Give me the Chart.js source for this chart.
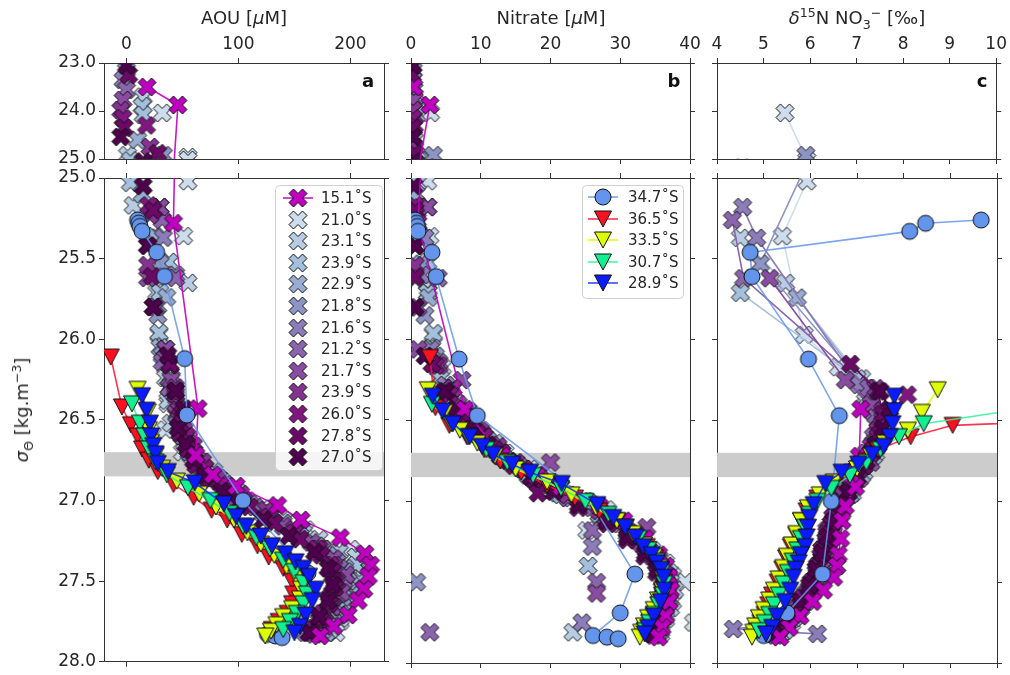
<!DOCTYPE html>
<html><head><meta charset="utf-8">
<script src="https://cdn.jsdelivr.net/npm/chart.js@4.4.1/dist/chart.umd.min.js"></script>
<style>
html,body{margin:0;padding:0;background:#fff;}
#wrap{position:relative;width:1010px;height:675px;overflow:hidden;font-family:"DejaVu Sans",sans-serif;color:#262626;}
canvas{position:absolute;left:0;top:0;}
.t{position:absolute;top:8px;font-size:18px;line-height:20px;white-space:nowrap;transform:translateX(-50%);}
.t sub,.t sup,.yl sub,.yl sup{font-size:70%;line-height:0;}
.yl{position:absolute;left:22px;top:410px;font-size:18px;line-height:20px;white-space:nowrap;transform:translate(-50%,-50%) rotate(-90deg);}
</style></head><body>
<div id="wrap">
<canvas id="aT" width="1010" height="675"></canvas>
<canvas id="bT" width="1010" height="675"></canvas>
<canvas id="cT" width="1010" height="675"></canvas>
<canvas id="aB" width="1010" height="675"></canvas>
<canvas id="bB" width="1010" height="675"></canvas>
<canvas id="cB" width="1010" height="675"></canvas>
<div class="t" style="left:244px">AOU [<i>μ</i>M]</div>
<div class="t" style="left:551px">Nitrate [<i>μ</i>M]</div>
<div class="t" style="left:857px"><i>δ</i><sup>15</sup>N NO<sub>3</sub><sup>−</sup> [‰]</div>
<div class="yl"><i>σ</i><sub>Θ</sub> [kg.m<sup>−3</sup>]</div>
</div>
<script>
// ---------- tick values ----------
const aouTicks = [0, 100, 200];
const no3Ticks = [0, 10, 20, 30, 40];
const d15nTicks = [4, 5, 6, 7, 8, 9, 10];
const sigTopTicks = [23, 24, 25];
const sigBotTicks = [25, 25.5, 26, 26.5, 27, 27.5, 28];
const bandSig = [26.7, 26.85];

// ---------- 15.1°S ----------
const sig_151 = [23.50, 23.875, 25.28, 26.43, 26.72, 26.84, 26.91, 27.03, 27.12, 27.23, 27.33, 27.40, 27.47, 27.55, 27.62, 27.71, 27.78, 27.84];
const aou_151 = [18.5, 46, 42, 64, 62, 77, 98, 135, 156, 191, 213, 218, 216, 212, 207, 198, 185, 173];
const no3_151 = [0.4, 2.7, 1.0, 7.7, 13.0, 18.0, 21.5, 27.0, 30.5, 33.5, 35.5, 36.5, 37.0, 37.2, 37.0, 36.5, 36.0, 35.5];
const d15n_151 = [null, null, null, 7.08, 7.05, 6.90, 6.97, 6.75, 6.68, 6.65, 6.60, 6.57, 6.50, 6.28, 6.05, 5.78, 5.55, 5.35];
// ---------- 21.0°S ----------
const sig_210 = [24.04, 24.96, 25.02, 25.36, 25.97, 26.17, 26.40, 26.56, 26.70, 26.80, 26.93, 27.05, 27.18, 27.30, 27.38, 27.46, 27.50, 27.62, 27.75, 27.82];
const aou_210 = [32, 55, 55, 51, 29, 35, 37, 35, 50, 70, 96, 130, 160, 200, 212, 208, 205, 198, 191, 187];
const no3_210 = [2.8, 1.0, 2.4, 2.7, 3.2, 4.5, 6.3, 8.5, 13.5, 17.0, 20.2, 28.0, 25.2, 34.5, 36.5, 37.5, 39.3, 37.5, 40.5, 35.8];
const d15n_210 = [5.46, null, 5.93, 5.40, 5.87, 6.60, 7.20, 7.50, 7.30, 7.00, 6.80, 6.60, 6.50, 6.40, 6.30, 6.20, 6.10, 5.90, 5.60, 5.30];
// ---------- 23.1°S ----------
const sig_231 = [23.70, 24.92, 25.17, 25.37, 25.65, 25.71, 26.24, 26.38, 26.52, 26.64, 26.76, 26.88, 27.00, 27.12, 27.24, 27.35, 27.44, 27.55, 27.66, 27.73, 27.81];
const aou_231 = [15, 1, 6, 20, 55, 27, 35, 37, 40, 52, 66, 85, 108, 140, 172, 205, 210, 204, 196, 191, 180];
const no3_231 = [0.5, 0.8, 1.0, 1.5, 2.4, 2.4, 4.0, 6.3, 8.8, 12.0, 15.0, 20.0, 25.0, 29.5, 32.5, 35.5, 37.0, 37.8, 37.2, 36.5, 23.2];
const d15n_231 = [null, null, null, 4.50, 5.47, null, 7.10, 7.18, 7.45, 7.35, 7.10, 6.85, 6.65, 6.50, 6.40, 6.30, 6.20, 6.05, 5.80, 5.60, 5.40];
// ---------- 23.9°S (a) ----------
const sig_239a = [23.90, 24.08, 25.03, 25.52, 25.71, 25.96, 26.24, 26.42, 26.58, 26.70, 26.82, 26.95, 27.08, 27.20, 27.32, 27.40, 27.50, 27.60, 27.70, 27.80];
const aou_239a = [14, 15, 3.6, 38, 30, 29, 40, 45, 48, 60, 78, 100, 128, 158, 190, 205, 208, 200, 192, 182];
const no3_239a = [0.6, 0.8, 0.9, 2.4, 2.4, 3.2, 4.2, 6.8, 9.5, 12.8, 16.5, 21.0, 27.0, 31.0, 34.0, 25.4, 37.2, 37.0, 36.5, 35.8];
const d15n_239a = [null, null, null, null, 4.50, null, 7.00, 7.30, 7.50, 7.40, 7.15, 6.90, 6.65, 6.50, 6.40, 6.30, 6.15, 6.00, 5.75, 5.45];
// ---------- 22.9°S ----------
const sig_229 = [24.60, 25.10, 25.36, 25.74, 26.05, 26.30, 26.46, 26.60, 26.72, 26.84, 26.96, 27.08, 27.20, 27.30, 27.42, 27.52, 27.62, 27.72, 27.82];
const aou_229 = [10, 14, 25, 36, 30, 38, 45, 50, 58, 72, 95, 122, 150, 175, 195, 200, 195, 186, 178];
const no3_229 = [0.5, 0.7, 1.2, 2.5, 3.0, 5.0, 7.5, 10.0, 12.8, 16.8, 21.5, 27.0, 31.2, 34.0, 35.8, 36.8, 36.7, 36.0, 35.2];
const d15n_229 = [null, null, null, 5.72, null, 7.20, 7.40, 7.50, 7.35, 7.10, 6.85, 6.60, 6.45, 6.35, 6.25, 6.10, 5.90, 5.65, 5.35];
// ---------- 21.8°S ----------
const sig_218 = [23.15, 24.92, 25.53, 25.85, 26.10, 26.33, 26.50, 26.62, 26.74, 26.86, 26.98, 27.10, 27.22, 27.34, 27.44, 27.50, 27.60, 27.70, 27.80];
const aou_218 = [0, 33, 30, 28, 32, 42, 48, 55, 62, 78, 100, 128, 155, 180, 195, 198, 193, 185, 176];
const no3_218 = [0.3, 3.2, 1.5, 2.0, 3.5, 5.5, 8.5, 11.0, 13.5, 18.0, 23.0, 28.0, 32.0, 34.5, 36.0, 0.8, 36.8, 36.2, 35.5];
const d15n_218 = [null, 5.91, 4.93, null, null, 7.30, 7.45, 7.40, 7.25, 7.00, 6.75, 6.55, 6.40, 6.30, 6.20, 6.10, 5.90, 5.65, 5.30];
// ---------- 21.6°S ----------
const sig_216 = [23.35, 25.18, 25.37, 25.60, 26.06, 26.28, 26.45, 26.58, 26.68, 26.78, 26.90, 27.02, 27.14, 27.28, 27.38, 27.48, 27.58, 27.68, 27.75, 27.79, 27.82];
const aou_216 = [-3, 30, 33, 44, 35, 40, 46, 50, 55, 65, 88, 110, 140, 170, 188, 194, 190, 182, 172, 168, 160];
const no3_216 = [0.3, 2.4, 2.0, 1.5, 2.8, 5.0, 7.8, 10.2, 12.5, 15.5, 20.5, 25.5, 30.0, 26.0, 35.2, 36.4, 36.6, 36.0, 24.5, 35.0, 34.8];
const d15n_216 = [null, 4.55, 4.85, null, null, 7.05, 7.35, 7.45, 7.35, 7.15, 6.85, 6.60, 6.45, 6.32, 6.22, 6.10, 5.92, 5.70, 5.50, 4.35, 6.15];
// ---------- 21.2°S ----------
const sig_212 = [23.56, 25.26, 25.62, 25.80, 26.14, 26.30, 26.47, 26.60, 26.70, 26.80, 26.92, 27.04, 27.18, 27.30, 27.42, 27.50, 27.57, 27.66, 27.74, 27.81];
const aou_212 = [0, 32, 44, 26, 32, 38, 45, 50, 56, 68, 90, 115, 148, 175, 190, 194, 190, 183, 175, 168];
const no3_212 = [0.4, 0.9, 3.9, 1.0, 4.0, 6.0, 8.2, 10.5, 13.0, 16.0, 20.8, 26.0, 26.0, 34.0, 35.6, 26.6, 36.5, 36.2, 35.5, 2.7];
const d15n_212 = [null, 4.33, 4.57, null, null, 7.25, 7.40, 7.35, 7.20, 7.00, 6.70, 6.50, 6.35, 6.25, 6.15, 6.05, 5.90, 5.70, 5.45, 5.20];
// ---------- 21.7°S ----------
const sig_217 = [23.77, 25.18, 25.62, 26.06, 26.25, 26.40, 26.54, 26.65, 26.76, 26.86, 26.98, 27.10, 27.16, 27.26, 27.36, 27.46, 27.57, 27.66, 27.75, 27.83];
const aou_217 = [-3, 30, 19, 35, 40, 44, 50, 56, 62, 75, 98, 125, 140, 165, 185, 196, 192, 184, 176, 168];
const no3_217 = [0.4, 2.4, 0.6, 1.0, 7.3, 6.8, 9.0, 11.5, 20.0, 17.5, 22.5, 28.0, 33.8, 33.0, 35.5, 36.8, 26.6, 36.4, 35.6, 34.8];
const d15n_217 = [null, null, 5.13, null, 6.75, 7.30, 7.50, 7.45, 7.30, 7.05, 6.75, 6.55, 6.45, 6.35, 6.25, 6.15, 5.95, 5.75, 5.50, 5.25];
// ---------- 23.9°S (b) ----------
const sig_239b = [23.98, 24.75, 25.23, 25.54, 26.16, 26.30, 26.44, 26.56, 26.66, 26.76, 26.86, 26.96, 27.06, 27.18, 27.30, 27.40, 27.50, 27.60, 27.70, 27.80];
const aou_239b = [-5, 21, 21, 19, 39, 44, 47, 52, 60, 68, 82, 102, 125, 150, 172, 185, 188, 184, 177, 168];
const no3_239b = [0.3, 0.5, 0.6, 0.6, 4.0, 6.0, 8.2, 10.0, 12.5, 15.0, 18.5, 22.5, 27.0, 31.0, 33.8, 35.6, 36.5, 36.4, 35.8, 35.0];
const d15n_239b = [null, null, null, null, null, 7.40, 7.55, 7.45, 7.30, 7.10, 6.90, 6.70, 6.55, 6.40, 6.28, 6.18, 6.05, 5.85, 5.60, 5.30];
// ---------- 26.0°S ----------
const sig_260 = [24.15, 24.30, 25.17, 25.42, 25.80, 26.16, 26.34, 26.48, 26.60, 26.70, 26.80, 26.90, 27.00, 27.10, 27.20, 27.30, 27.40, 27.50, 27.60, 27.70, 27.80];
const aou_260 = [-3, 18, 20, 19, 24, 39, 44, 48, 54, 60, 70, 85, 105, 128, 150, 170, 182, 186, 182, 175, 166];
const no3_260 = [0.3, 0.5, 0.6, 0.6, 0.6, 3.5, 5.5, 8.0, 10.5, 13.0, 16.2, 20.0, 24.5, 28.5, 31.5, 33.8, 35.5, 36.4, 36.4, 35.8, 35.0];
const d15n_260 = [null, null, null, null, null, null, 8.08, 7.60, 7.45, 7.30, 7.05, 6.85, 6.62, 6.48, 6.35, 6.25, 6.15, 6.02, 5.82, 5.55, 5.22];
// ---------- 27.8°S ----------
const sig_278 = [23.25, 24.35, 24.88, 25.20, 25.61, 26.15, 26.32, 26.46, 26.58, 26.68, 26.78, 26.88, 26.95, 27.04, 27.14, 27.24, 27.34, 27.44, 27.54, 27.64, 27.74, 27.82];
const aou_278 = [2, -2, 28, 24, 23, 39, 44, 50, 48, 55, 62, 74, 92, 110, 132, 155, 174, 184, 186, 181, 173, 165];
const no3_278 = [0.2, 0.3, 0.5, 0.6, 0.6, 3.0, 5.0, 7.5, 9.5, 12.0, 14.8, 18.0, 18.2, 24.0, 28.2, 31.0, 33.5, 35.2, 36.0, 36.0, 35.4, 34.6];
const d15n_278 = [null, null, null, null, null, 6.86, 7.45, 7.55, 7.50, 7.35, 7.15, 6.95, 6.80, 6.62, 6.45, 6.33, 6.22, 6.12, 5.98, 5.80, 5.50, 5.20];
// ---------- 27.0°S ----------
const sig_270 = [23.05, 24.54, 25.05, 25.42, 25.80, 26.10, 26.32, 26.43, 26.55, 26.65, 26.75, 26.85, 26.94, 27.02, 27.12, 27.22, 27.32, 27.42, 27.52, 27.62, 27.72, 27.82];
const aou_270 = [0, -5, 15, 19, 24, 37, 44, 51, 46, 53, 60, 70, 85, 100, 122, 145, 168, 180, 184, 180, 172, 163];
const no3_270 = [0.3, 0.3, 0.4, 0.6, 0.6, 2.0, 4.8, 6.5, 8.8, 11.0, 14.0, 17.2, 20.5, 24.0, 28.0, 31.0, 33.6, 35.3, 36.2, 36.2, 35.6, 34.7];
const d15n_270 = [null, null, null, null, null, null, 7.50, 7.70, 7.55, 7.40, 7.20, 7.00, 6.82, 6.65, 6.50, 6.36, 6.25, 6.12, 5.98, 5.78, 5.50, 5.18];
// ---------- 34.7°S (circles) ----------
const sig_347 = [25.26, 25.28, 25.30, 25.33, 25.46, 25.61, 26.12, 26.47, 27.00, 27.45, 27.69, 27.83, 27.84, 27.85];
const aou_347 = [10, 11, 12, 14, 27, 34, 52, 54, 104, 162, 150, 126, 133, 139];
const no3_347 = [0.6, 0.8, 0.9, 1.0, 3.0, 3.6, 6.9, 9.5, 25.7, 32.1, 30.0, 26.1, 28.1, 29.7];
const d15n_347 = [9.66, 8.47, null, 8.13, 4.71, 4.75, 5.96, 6.62, 6.45, 6.26, 5.50, 5.00, null, null];
// ---------- 36.5°S ----------
const sig_365 = [26.11, 26.42, 26.53, 26.60, 26.68, 26.75, 26.82, 26.90, 26.98, 27.06, 27.12, 27.21, 27.28, 27.35, 27.42, 27.50, 27.58, 27.64, 27.70, 27.75, 27.80];
const aou_365 = [-14, -4, 4, 10, 14, 20, 28, 42, 60, 76, 90, 103, 117, 127, 140, 148, 149, 148, 144, 136, 130];
const no3_365 = [2.7, 3.5, 5.5, 8.0, 10.5, 12.8, 15.8, 19.5, 23.5, 27.0, 29.6, 32.0, 33.8, 35.0, 35.8, 36.3, 36.0, 35.5, 34.8, 34.2, 33.5];
const d15n_365 = [null, 18.7, 9.05, 8.15, 7.45, 7.20, 6.90, 6.50, 6.15, 5.92, 5.80, 5.70, 5.58, 5.48, 5.40, 5.30, 5.18, 5.10, 5.02, 4.93, 4.85];
// ---------- 33.5°S ----------
const sig_335 = [26.31, 26.45, 26.56, 26.64, 26.72, 26.80, 26.88, 26.96, 27.04, 27.12, 27.20, 27.27, 27.34, 27.41, 27.48, 27.55, 27.61, 27.67, 27.72, 27.77, 27.81, 27.84];
const aou_335 = [10, 19, 20, 22, 26, 32, 45, 65, 80, 96, 108, 120, 132, 143, 152, 156, 155, 148, 140, 134, 129, 124];
const no3_335 = [2.4, 4.8, 7.0, 9.5, 12.0, 15.0, 19.5, 23.0, 26.5, 29.5, 31.8, 33.4, 34.8, 35.6, 36.1, 36.0, 35.4, 34.8, 34.0, 33.4, 33.0, 32.8];
const d15n_335 = [8.73, 8.39, 8.09, 7.60, 7.30, 7.00, 6.50, 6.20, 5.95, 5.80, 5.70, 5.60, 5.50, 5.42, 5.32, 5.22, 5.12, 5.00, 4.90, 4.82, 4.78, 4.75];
// ---------- 30.7°S ----------
const sig_307 = [26.40, 26.52, 26.60, 26.68, 26.76, 26.84, 26.92, 27.00, 27.08, 27.16, 27.23, 27.30, 27.37, 27.44, 27.51, 27.58, 27.64, 27.70, 27.75, 27.80];
const aou_307 = [5, 12, 16, 20, 26, 36, 55, 75, 92, 104, 116, 128, 140, 150, 158, 161, 158, 152, 146, 140];
const no3_307 = [3.0, 5.8, 8.2, 10.8, 13.8, 17.5, 21.5, 25.0, 28.3, 30.8, 32.6, 34.0, 35.2, 35.9, 36.3, 36.1, 35.5, 34.9, 34.2, 33.6];
const d15n_307 = [11.2, 8.43, 7.90, 7.50, 7.20, 6.85, 6.45, 6.15, 5.98, 5.88, 5.80, 5.72, 5.62, 5.52, 5.42, 5.32, 5.22, 5.12, 5.02, 4.90];
// ---------- 28.9°S ----------
const sig_289 = [26.35, 26.44, 26.52, 26.60, 26.66, 26.71, 26.77, 26.82, 26.89, 27.02, 27.10, 27.16, 27.22, 27.28, 27.33, 27.38, 27.42, 27.47, 27.55, 27.62, 27.71, 27.78, 27.82];
const aou_289 = [14, 18, 21, 22, 24, 26, 28, 37, 61, 87, 98, 107, 120, 130, 142, 151, 158, 163, 169, 166, 160, 155, 150];
const no3_289 = [3.1, 4.5, 6.0, 8.4, 10.2, 11.8, 14.5, 17.0, 21.6, 26.7, 29.0, 30.7, 32.2, 33.3, 34.5, 35.2, 35.8, 36.2, 36.3, 35.8, 34.8, 34.0, 33.5];
const d15n_289 = [7.80, 7.80, 7.76, 7.70, 7.57, 7.33, 7.03, 6.67, 6.32, 6.07, 5.98, 5.95, 5.92, 5.89, 5.80, 5.75, 5.68, 5.64, 5.57, 5.46, 5.28, 5.18, 5.05];

// ---------- marker images ----------
function xImg(color){
  const W = 18, S = W + 4, c = document.createElement('canvas'); c.width = c.height = S;
  const g = c.getContext('2d'), u = W / 4, o = S / 2;
  const pts = [[-1,-2],[0,-1],[1,-2],[2,-1],[1,0],[2,1],[1,2],[0,1],[-1,2],[-2,1],[-1,0],[-2,-1]];
  g.beginPath(); pts.forEach((p,i)=>{const x=o+p[0]*u, y=o+p[1]*u; i?g.lineTo(x,y):g.moveTo(x,y);}); g.closePath();
  g.fillStyle = color; g.fill(); g.lineWidth = 1; g.strokeStyle = '#111'; g.stroke(); return c;
}
function vImg(color){
  const W = 17, H = 16, S = 22, c = document.createElement('canvas'); c.width = c.height = S;
  const g = c.getContext('2d'), o = S / 2;
  g.beginPath(); g.moveTo(o - W/2, o - H/2); g.lineTo(o + W/2, o - H/2); g.lineTo(o, o + H/2); g.closePath();
  g.fillStyle = color; g.fill(); g.lineWidth = 1; g.strokeStyle = '#111'; g.stroke(); return c;
}
function oImg(color){
  const S = 22, c = document.createElement('canvas'); c.width = c.height = S;
  const g = c.getContext('2d');
  g.beginPath(); g.arc(S/2, S/2, 8, 0, Math.PI*2); g.fillStyle = color; g.fill(); g.lineWidth = 1; g.strokeStyle = '#111'; g.stroke(); return c;
}

const crossSeries = [
  {label:'15.1˚S', sig:sig_151, aou:aou_151, no3:no3_151, d15n:d15n_151, color:'#c000c0', line:'rgba(192,0,192,0.9)', lineAB:true},
  {label:'21.0˚S', sig:sig_210, aou:aou_210, no3:no3_210, d15n:d15n_210, color:'#cddded'},
  {label:'23.1˚S', sig:sig_231, aou:aou_231, no3:no3_231, d15n:d15n_231, color:'#b8cde3'},
  {label:'23.9˚S', sig:sig_239a, aou:aou_239a, no3:no3_239a, d15n:d15n_239a, color:'#a5c0dc'},
  {label:'22.9˚S', sig:sig_229, aou:aou_229, no3:no3_229, d15n:d15n_229, color:'#98add2'},
  {label:'21.8˚S', sig:sig_218, aou:aou_218, no3:no3_218, d15n:d15n_218, color:'#8c95c5'},
  {label:'21.6˚S', sig:sig_216, aou:aou_216, no3:no3_216, d15n:d15n_216, color:'#8c7cb9'},
  {label:'21.2˚S', sig:sig_212, aou:aou_212, no3:no3_212, d15n:d15n_212, color:'#8b64ae'},
  {label:'21.7˚S', sig:sig_217, aou:aou_217, no3:no3_217, d15n:d15n_217, color:'#894ca2'},
  {label:'23.9˚S', sig:sig_239b, aou:aou_239b, no3:no3_239b, d15n:d15n_239b, color:'#863293'},
  {label:'26.0˚S', sig:sig_260, aou:aou_260, no3:no3_260, d15n:d15n_260, color:'#821681'},
  {label:'27.8˚S', sig:sig_278, aou:aou_278, no3:no3_278, d15n:d15n_278, color:'#6b0967'},
  {label:'27.0˚S', sig:sig_270, aou:aou_270, no3:no3_270, d15n:d15n_270, color:'#4d004b'}
];
crossSeries.forEach(s => { s.img = xImg(s.color); if (!s.line) s.line = s.color; });
const otherSeries = [
  {label:'34.7˚S', sig:sig_347, aou:aou_347, no3:no3_347, d15n:d15n_347, color:'#6495ed', line:'rgba(100,149,237,0.85)', img:oImg('#6495ed')},
  {label:'36.5˚S', sig:sig_365, aou:aou_365, no3:no3_365, d15n:d15n_365, color:'#ff1020', line:'rgba(255,16,48,0.85)', img:vImg('#ff1020')},
  {label:'33.5˚S', sig:sig_335, aou:aou_335, no3:no3_335, d15n:d15n_335, color:'#ddff00', line:'rgba(221,255,0,0.9)', img:vImg('#ddff00')},
  {label:'30.7˚S', sig:sig_307, aou:aou_307, no3:no3_307, d15n:d15n_307, color:'#10f090', line:'rgba(40,245,150,0.85)', img:vImg('#10f090')},
  {label:'28.9˚S', sig:sig_289, aou:aou_289, no3:no3_289, d15n:d15n_289, color:'#0a1cff', line:'rgba(10,40,255,0.85)', img:vImg('#0a1cff')}
];

function pts(sig, vals){ const out = []; for (let i = 0; i < sig.length; i++) if (vals[i] !== null) out.push({x: vals[i], y: sig[i]}); return out; }

function datasets(v){
  // drawing order: BuPu stations, then 15.1°S, then circles/triangles
  const all = [];
  crossSeries.slice(1).forEach(s => all.push({s, showLine: v === 'd15n'}));
  all.push({s: crossSeries[0], showLine: true});
  otherSeries.forEach(s => all.push({s, showLine: true}));
  const N = all.length;
  return all.map((e, i) => ({
    label: e.s.label, data: pts(e.s.sig, e.s[v]), showLine: e.showLine,
    borderColor: e.s.line, borderWidth: (e.showLine ? 1.6 : 0), backgroundColor: e.s.color,
    pointStyle: e.s.img, pointRadius: 9, pointHoverRadius: 9, pointBorderWidth: 0,
    order: N - i, spanGaps: true, tension: 0
  }));
}

const AX = '#333';
function axis(pos, min, max, ticks, labels, size, fmt, reverse){
  return {
    type: 'linear', position: pos, min, max, reverse: !!reverse,
    afterBuildTicks: s => { s.ticks = ticks.map(v => ({value: v})); },
    afterFit: s => { if (s.isHorizontal()) s.height = size; else s.width = size; },
    grid: {drawOnChartArea: false, drawTicks: true, tickLength: 5, color: AX, lineWidth: 1},
    border: {display: true, color: AX, width: 1},
    ticks: {display: labels, color: '#262626', font: {family: 'DejaVu Sans', size: 17}, padding: 3,
            autoSkip: false, maxRotation: 0, callback: fmt}
  };
}

const bandPlugin = {
  id: 'band',
  beforeDatasetsDraw(chart){
    const {ctx, chartArea: a, scales: {y}} = chart;
    const y1 = y.getPixelForValue(bandSig[0]), y2 = y.getPixelForValue(bandSig[1]);
    ctx.save(); ctx.fillStyle = '#cccccc'; ctx.fillRect(a.left, y1, a.right - a.left, y2 - y1); ctx.restore();
  }
};
function labelPlugin(txt, dx){
  return { id: 'plabel', afterDraw(chart){
    const {ctx, chartArea: a} = chart;
    ctx.save(); ctx.font = 'bold 18px "DejaVu Sans"'; ctx.fillStyle = '#111'; ctx.textAlign = 'center'; ctx.textBaseline = 'middle';
    ctx.fillText(txt, a.right - dx, a.top + 19); ctx.restore();
  }};
}
function legendPlugin(items, box){
  return { id: 'mpllegend', afterDatasetsDraw(chart){
    const {ctx, chartArea: a} = chart;
    const bx = a.right - box.right - box.w, by = a.top + box.top;
    ctx.save();
    ctx.beginPath(); ctx.roundRect(bx + 0.5, by + 0.5, box.w, box.h, 4);
    ctx.fillStyle = 'rgba(255,255,255,0.8)'; ctx.fill(); ctx.strokeStyle = '#d0d0d0'; ctx.lineWidth = 1; ctx.stroke();
    items.forEach((s, i) => {
      const yy = Math.round(by + box.first + i * box.step), mx = bx + box.mx;
      if (s.legLine) { ctx.strokeStyle = s.line; ctx.lineWidth = 1.6; ctx.beginPath(); ctx.moveTo(mx - 15, yy); ctx.lineTo(mx + 15, yy); ctx.stroke(); }
      ctx.drawImage(s.img, Math.round(mx - s.img.width / 2), Math.round(yy - s.img.height / 2));
      ctx.fillStyle = '#262626'; ctx.font = '15px "DejaVu Sans"'; ctx.textBaseline = 'middle'; ctx.textAlign = 'left';
      ctx.fillText(s.label, bx + box.tx, yy + 1);
    });
    ctx.restore();
  }};
}
crossSeries[0].legLine = true;
otherSeries.forEach(s => s.legLine = true);

const W = 1010, H = 675;
const cols = {
  a: {left: 104, right: 384, min: -20, max: 230, ticks: aouTicks, v: 'aou', lw: 55},
  b: {left: 411, right: 690, min: 0, max: 40, ticks: no3Ticks, v: 'no3', lw: 12},
  c: {left: 717, right: 997, min: 4, max: 10, ticks: d15nTicks, v: 'd15n', lw: 12}
};
const rows = {
  T: {top: 63, bottom: 159, min: 23, max: 25, ticks: sigTopTicks, th: 45, bh: 12},
  B: {top: 178, bottom: 663, min: 25, max: 28, ticks: sigBotTicks, th: 12, bh: 12}
};
const fmtX = v => String(v);
const fmtY = v => Number(v).toFixed(1);

function makePanel(ck, rk){
  const c = cols[ck], r = rows[rk];
  const rw = 12;
  const plugins = [];
  if (rk === 'B') plugins.push(bandPlugin);
  if (rk === 'T') plugins.push(labelPlugin(ck, ck === 'c' ? 14 : 16));
  if (rk === 'B' && ck === 'a') plugins.push(legendPlugin(crossSeries, {right: 2, top: 7, w: 107, h: 285, first: 13, step: 21.6, mx: 23, tx: 46}));
  if (rk === 'B' && ck === 'b') plugins.push(legendPlugin(otherSeries, {right: 7, top: 7, w: 101, h: 113, first: 12, step: 21.5, mx: 21, tx: 46}));
  new Chart(document.getElementById(ck + rk), {
    type: 'scatter',
    data: {datasets: datasets(c.v)},
    options: {
      responsive: false, animation: false, events: [],
      layout: {autoPadding: false, padding: {left: c.left - c.lw, right: W - c.right - rw, top: r.top - r.th, bottom: H - r.bottom - r.bh}},
      plugins: {legend: {display: false}, tooltip: {enabled: false}},
      scales: {
        x: axis('top', c.min, c.max, c.ticks, rk === 'T', r.th, fmtX, false),
        x2: axis('bottom', c.min, c.max, c.ticks, false, r.bh, fmtX, false),
        y: axis('left', r.min, r.max, r.ticks, ck === 'a', c.lw, fmtY, true),
        y2: axis('right', r.min, r.max, r.ticks, false, rw, fmtY, true)
      }
    },
    plugins
  });
}
['a','b','c'].forEach(ck => { makePanel(ck, 'T'); makePanel(ck, 'B'); });
</script>
</body></html>
